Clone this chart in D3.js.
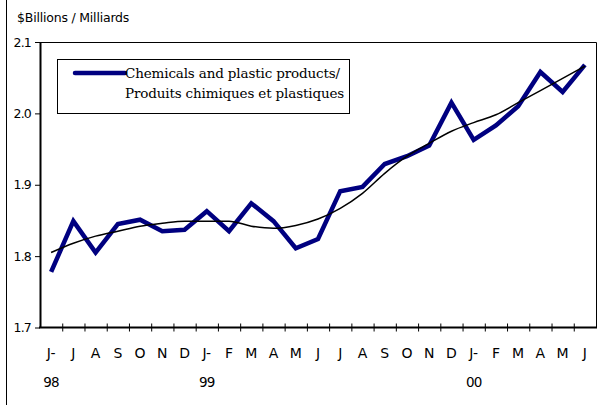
<!DOCTYPE html>
<html>
<head>
<meta charset="utf-8">
<script src="https://cdn.jsdelivr.net/npm/d3@7/dist/d3.min.js"></script>
<style>
  body { margin: 0; background: #fff; }
  svg { display: block; }
</style>
</head>
<body>
<div class="chart"></div>
<script>
// months Jun 1998 .. Jun 2000
var monthLabels = ['J-','J','A','S','O','N','D','J-','F','M','A','M','J','J','A','S','O','N','D','J-','F','M','A','M','J'];
var yearLabels  = ['98','','','','','','','99','','','','','','','','','','','','00','','','','',''];
var chemicals = [1.778, 1.849, 1.805, 1.845, 1.851, 1.835, 1.837, 1.863, 1.835, 1.874, 1.849, 1.811, 1.824,
                 1.891, 1.897, 1.929, 1.940, 1.955, 2.015, 1.963, 1.983, 2.010, 2.058, 2.030, 2.068];
var trend = [1.805, 1.818, 1.828, 1.835, 1.842, 1.846, 1.849, 1.849, 1.849, 1.842, 1.839, 1.843, 1.852,
             1.867, 1.888, 1.916, 1.940, 1.958, 1.975, 1.987, 1.998, 2.015, 2.032, 2.049, 2.066];
var yTicks = [1.7, 1.8, 1.9, 2.0, 2.1];
var legendLines = ['Chemicals and plastic products/', 'Produits chimiques et plastiques'];

var width = 606, height = 405;
var plotLeft = 40, plotRight = 596, plotTop = 42, plotBottom = 327.5;
var sansFont = 'DejaVu Sans', serifFont = 'DejaVu Serif';
var navy = '#000080';
var textColor = '#000';

var svg = d3.select('.chart').append('svg')
    .attr('width', width)
    .attr('height', height);

// outer frame edge on the left
svg.append('line')
    .attr('x1', 6.5).attr('x2', 6.5)
    .attr('y1', 0).attr('y2', height)
    .attr('stroke', '#000').attr('stroke-width', 1);

svg.append('text')
    .attr('x', 17).attr('y', 22)
    .attr('font-family', sansFont)
    .attr('font-size', 12.5)
    .attr('letter-spacing', -0.2)
    .attr('fill', textColor)
    .text('$Billions / Milliards');

var idx = d3.range(monthLabels.length);
var x = d3.scaleBand().domain(idx).range([plotLeft, plotRight]).padding(0);
var xEdge = d3.scaleLinear().domain([0, monthLabels.length]).range([plotLeft, plotRight]);
var y = d3.scaleLinear().domain([1.7, 2.1]).range([plotBottom, plotTop]);

// top and right border of plot
svg.append('path')
    .attr('d', 'M' + plotLeft + ',' + (plotTop + 0.5) + 'H' + (plotRight + 0.5) + 'V' + plotBottom)
    .attr('fill', 'none')
    .attr('stroke', '#000')
    .attr('stroke-width', 1);

// y axis
var yAxis = svg.append('g')
    .attr('transform', 'translate(' + plotLeft + ',0)')
    .call(d3.axisLeft(y).tickValues(yTicks).tickFormat(d3.format('.1f')).tickSize(5).tickSizeOuter(0));
yAxis.select('.domain').attr('stroke-width', 2);
yAxis.selectAll('.tick line').attr('stroke-width', 1);
yAxis.selectAll('.tick text')
    .attr('font-family', sansFont)
    .attr('font-size', 12.5)
    .attr('letter-spacing', -0.8)
    .attr('x', -9)
    .attr('fill', textColor);

// x axis baseline
svg.append('line')
    .attr('x1', plotLeft - 1).attr('x2', plotRight + 1)
    .attr('y1', plotBottom).attr('y2', plotBottom)
    .attr('stroke', '#000').attr('stroke-width', 2);

var xAxis = svg.append('g')
    .attr('transform', 'translate(0,' + (plotBottom + 4) + ')')
    .call(d3.axisBottom(xEdge).tickValues(d3.range(1, monthLabels.length)).tickFormat('').tickSizeInner(-8).tickSizeOuter(0));
xAxis.select('.domain').remove();

svg.selectAll('.month')
    .data(idx)
    .enter().append('text')
    .attr('class', 'month')
    .attr('x', function(d){ return x(d) + x.bandwidth() / 2; })
    .attr('y', 358)
    .attr('text-anchor', 'middle')
    .attr('font-family', sansFont)
    .attr('font-size', 14)
    .attr('fill', textColor)
    .text(function(d){ return monthLabels[d]; });

svg.selectAll('.year')
    .data(idx.filter(function(d){ return yearLabels[d] !== ''; }))
    .enter().append('text')
    .attr('class', 'year')
    .attr('x', function(d){ return x(d) + x.bandwidth() / 2; })
    .attr('y', 387)
    .attr('text-anchor', 'middle')
    .attr('font-family', sansFont)
    .attr('font-size', 13.5)
    .attr('letter-spacing', -0.8)
    .attr('fill', textColor)
    .text(function(d){ return yearLabels[d]; });

var line = d3.line()
    .x(function(d, i){ return x(i) + x.bandwidth() / 2; })
    .y(function(d){ return y(d); });
var smooth = d3.line()
    .x(function(d, i){ return x(i) + x.bandwidth() / 2; })
    .y(function(d){ return y(d); })
    .curve(d3.curveMonotoneX);

svg.append('path')
    .datum(chemicals)
    .attr('d', line)
    .attr('fill', 'none')
    .attr('stroke', navy)
    .attr('stroke-width', 4.5)
    .attr('stroke-linejoin', 'miter');

svg.append('path')
    .datum(trend)
    .attr('d', smooth)
    .attr('fill', 'none')
    .attr('stroke', '#000')
    .attr('stroke-width', 1.5);

// legend
var legend = svg.append('g');
legend.append('rect')
    .attr('x', 57.5).attr('y', 59.5)
    .attr('width', 292).attr('height', 54)
    .attr('fill', '#fff')
    .attr('stroke', '#000').attr('stroke-width', 1);
legend.append('line')
    .attr('x1', 75).attr('x2', 125)
    .attr('y1', 73).attr('y2', 73)
    .attr('stroke', navy).attr('stroke-width', 4.5)
    .attr('stroke-linecap', 'round');
legend.selectAll('.leg')
    .data(legendLines)
    .enter().append('text')
    .attr('x', 125)
    .attr('y', function(d, i){ return 78 + i * 20; })
    .attr('font-family', serifFont)
    .attr('font-size', 13.5)
    .attr('letter-spacing', -0.15)
    .attr('fill', textColor)
    .text(function(d){ return d; });
</script>
</body>
</html>
